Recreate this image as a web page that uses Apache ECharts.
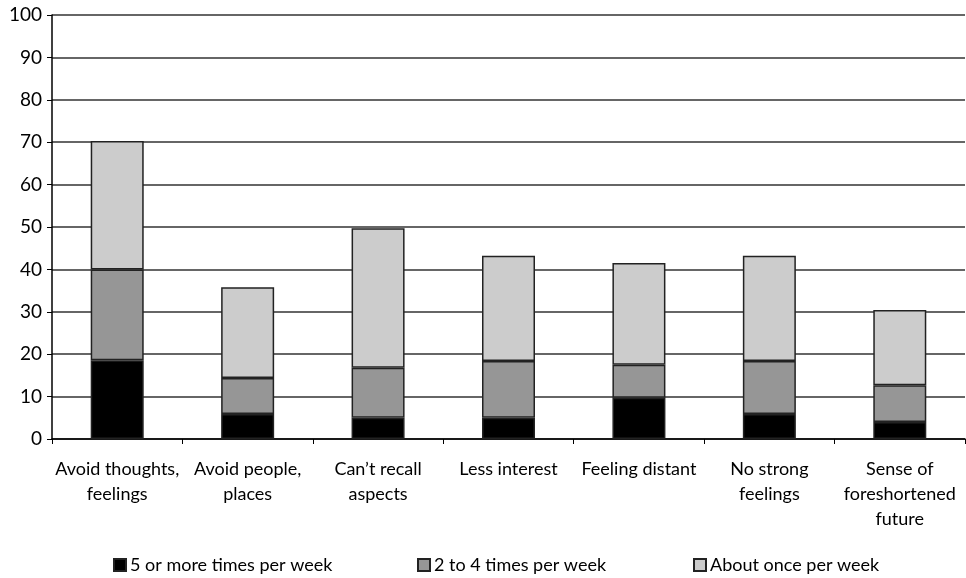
<!DOCTYPE html>
<html><head><meta charset="utf-8">
<script src="https://cdn.jsdelivr.net/npm/echarts@6/dist/echarts.min.js"></script>
<style>html,body{margin:0;padding:0;background:#fff}#c{width:966px;height:578px}</style>
</head><body><div id="c"></div>
<script>
const categories = ["Avoid thoughts,\nfeelings","Avoid people,\nplaces","Can\u2019t recall\naspects","Less interest","Feeling distant","No strong\nfeelings","Sense of\nforeshortened\nfuture"];
const seriesNames = ["5 or more times per week","2 to 4 times per week","About once per week"];
const fivePlus = [18.6, 5.9, 5.0, 5.0, 9.7, 5.9, 4.0];
const twoToFour = [21.4, 8.5, 11.8, 13.4, 7.8, 12.5, 8.7];
const oncePerWeek = [30.3, 21.4, 32.9, 24.8, 24.0, 24.8, 17.7];
const yTicks = [0,10,20,30,40,50,60,70,80,90,100];

const colors = ["#000000","#969696","#cccccc"];
const font = "Lato, 'Open Sans', sans-serif";
const chart = echarts.init(document.getElementById('c'), null, {renderer:'canvas'});
const data = [fivePlus, twoToFour, oncePerWeek];
const legendLefts = [113, 417, 693];
chart.setOption({
  animation:false,
  backgroundColor:'#fff',
  textStyle:{fontFamily:font},
  grid:{left:52, right:1, top:15, bottom:139, containLabel:false},
  legend: seriesNames.map((n,i)=>({
    data:[n], left:legendLefts[i], top:556, padding:0, itemWidth:12, itemHeight:12, itemGap:4,
    icon:'rect',
    textStyle:{fontFamily:font, fontSize:18, color:'#000', padding:[0,0,0,-1]}
  })),
  xAxis:{
    type:'category', data:categories,
    axisLine:{lineStyle:{color:'#000', width:1.5}},
    axisTick:{show:true, alignWithLabel:false, length:5, lineStyle:{color:'#000', width:1}},
    axisLabel:{interval:0, color:'#000', fontSize:18, fontFamily:font, lineHeight:25, margin:18}
  },
  yAxis:{
    type:'value', min:0, max:100, interval:10,
    axisLine:{show:true, lineStyle:{color:'#000', width:1.5}},
    axisTick:{show:true, length:5, lineStyle:{color:'#000'}},
    axisLabel:{color:'#000', fontSize:19, fontFamily:font, margin:10,
      formatter:v=>yTicks.includes(v)?String(v):''},
    splitLine:{show:true, lineStyle:{color:'#333', width:1.5}}
  },
  series: seriesNames.map((n,i)=>({
    name:n, type:'bar', stack:'total', data:data[i], barWidth:53,
    itemStyle:{color:colors[i], borderColor:'#222', borderWidth:1.5}
  }))
});
</script></body></html>
